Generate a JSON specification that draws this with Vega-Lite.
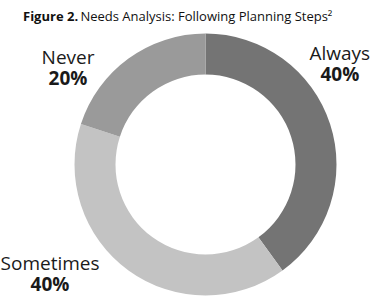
{
  "$schema": "https://vega.github.io/schema/vega-lite/v6.json",
  "width": 349,
  "height": 249,
  "autosize": {"type": "none"},
  "padding": {"left": 31, "top": 40, "right": 0, "bottom": 15},
  "title": {
    "text": "Figure 2.",
    "subtitle": "\u200b\u00a0\u00a0\u00a0\u00a0\u00a0\u00a0\u00a0\u00a0\u00a0\u00a0\u00a0\u00a0\u00a0\u00a0\u00a0\u00a0\u00a0Needs Analysis: Following Planning Steps²",
    "anchor": "start",
    "frame": "group",
    "dx": -8,
    "dy": -6,
    "font": "Open Sans",
    "fontSize": 13,
    "fontWeight": "bold",
    "color": "#111111",
    "subtitleFont": "Open Sans",
    "subtitleFontSize": 13,
    "subtitleFontWeight": "normal",
    "subtitleColor": "#111111",
    "subtitlePadding": -13
  },
  "config": {"view": {"stroke": null}},
  "data": {
    "values": [
      {"category": "Always", "share": 0.4, "order": 1},
      {"category": "Sometimes", "share": 0.4, "order": 2},
      {"category": "Never", "share": 0.2, "order": 3}
    ]
  },
  "encoding": {
    "theta": {"field": "share", "type": "quantitative", "stack": true},
    "order": {"field": "order", "type": "quantitative"}
  },
  "layer": [
    {
      "mark": {"type": "arc", "outerRadius": 131, "innerRadius": 90},
      "encoding": {
        "color": {
          "field": "category",
          "type": "nominal",
          "scale": {"domain": ["Always", "Sometimes", "Never"], "range": ["#747474", "#c3c3c3", "#9a9a9a"]},
          "legend": null
        }
      }
    },
    {
      "mark": {
        "type": "text",
        "radius": {"expr": "datum.category === 'Sometimes' ? 190 : 168"},
        "thetaOffset": {"expr": "datum.category === 'Sometimes' ? 0.33 : -0.33"},
        "font": "Open Sans",
        "fontSize": 19,
        "dy": -10,
        "color": "#1a1a1a"
      },
      "encoding": {"text": {"field": "category", "type": "nominal"}}
    },
    {
      "mark": {
        "type": "text",
        "radius": {"expr": "datum.category === 'Sometimes' ? 190 : 168"},
        "thetaOffset": {"expr": "datum.category === 'Sometimes' ? 0.33 : -0.33"},
        "font": "Open Sans",
        "fontSize": 19,
        "fontWeight": "bold",
        "dy": 11,
        "color": "#1a1a1a"
      },
      "encoding": {"text": {"field": "share", "type": "quantitative", "format": ".0%"}}
    }
  ]
}
